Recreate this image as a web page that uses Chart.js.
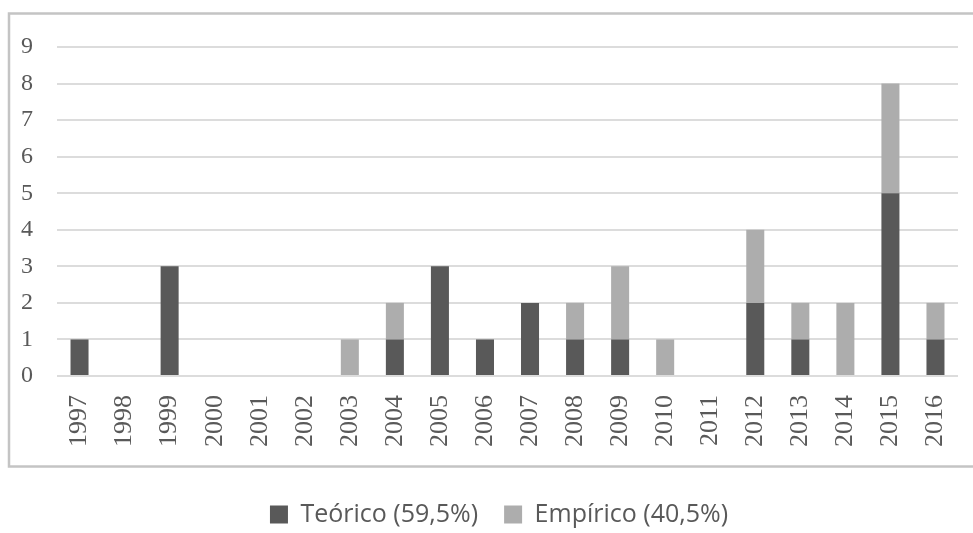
<!DOCTYPE html>
<html>
<head>
<meta charset="utf-8">
<script src="https://cdn.jsdelivr.net/npm/chart.js@4"></script>
<style>
  html, body { margin: 0; padding: 0; background: #fff; }
  #wrap { width: 973px; height: 533px; }
</style>
</head>
<body>
<div id="wrap"><canvas id="myChart" width="973" height="533"></canvas></div>
<script>
const years = ['1997','1998','1999','2000','2001','2002','2003','2004','2005','2006',
               '2007','2008','2009','2010','2011','2012','2013','2014','2015','2016'];
const teorico  = [1,0,3,0,0,0,0,1,3,1,2,1,1,0,0,2,1,0,5,1];
const empirico = [0,0,0,0,0,0,1,1,0,0,0,1,2,1,0,2,1,2,3,1];
const seriesNames = ['Teórico (59,5%)', 'Empírico (40,5%)'];
const yTicks = ['0','1','2','3','4','5','6','7','8','9'];

// frame around the plot, like the Excel chart area
const framePlugin = {
  id: 'frame',
  afterLayout(chart) {
    // legend sits a bit right of the canvas centre in the original
    chart.legend.left += 11;
    chart.legend.right += 11;
  },
  beforeDraw(chart) {
    const c = chart.ctx;
    c.save();
    c.strokeStyle = '#c4c4c4';
    c.lineWidth = 2.5;
    c.strokeRect(9, 13.5, 966, 453);
    c.restore();
  }
};

const ctx = document.getElementById('myChart');
const myChart = new Chart(ctx, {
  type: 'bar',
  data: {
    labels: years,
    datasets: [{
      label: seriesNames[0],
      data: teorico,
      backgroundColor: '#595959',
      barPercentage: 0.4,
      categoryPercentage: 1
    }, {
      label: seriesNames[1],
      data: empirico,
      backgroundColor: '#adadad',
      barPercentage: 0.4,
      categoryPercentage: 1
    }]
  },
  options: {
    responsive: false,
    animation: false,
    layout: { padding: { left: 18, right: 15, top: 47, bottom: -4 } },
    plugins: {
      legend: {
        position: 'bottom',
        labels: {
          color: '#595959',
          font: { family: 'Open Sans', size: 25 },
          boxWidth: 18,
          boxHeight: 18,
          padding: 26
        }
      },
      tooltip: { enabled: false }
    },
    scales: {
      x: {
        stacked: true,
        grid: { display: false, drawTicks: false },
        border: { display: false },
        ticks: {
          color: '#595959',
          font: { family: 'Liberation Serif', size: 26 },
          minRotation: 90,
          maxRotation: 90,
          padding: 19,
          autoSkip: false
        },
        afterFit(s) {
          s.height = 100;
          s.paddingLeft = 0;
          s.paddingRight = 0;
        }
      },
      y: {
        stacked: true,
        min: 0,
        max: 9,
        grid: { color: '#dcdcdc', lineWidth: 2, drawTicks: false },
        border: { display: false },
        ticks: {
          stepSize: 1,
          color: '#595959',
          font: { family: 'Liberation Serif', size: 24 },
          padding: 24,
          callback: (v) => yTicks[v]
        },
        afterFit(s) { s.width = 39; }
      }
    }
  },
  plugins: [framePlugin]
});
</script>
</body>
</html>
